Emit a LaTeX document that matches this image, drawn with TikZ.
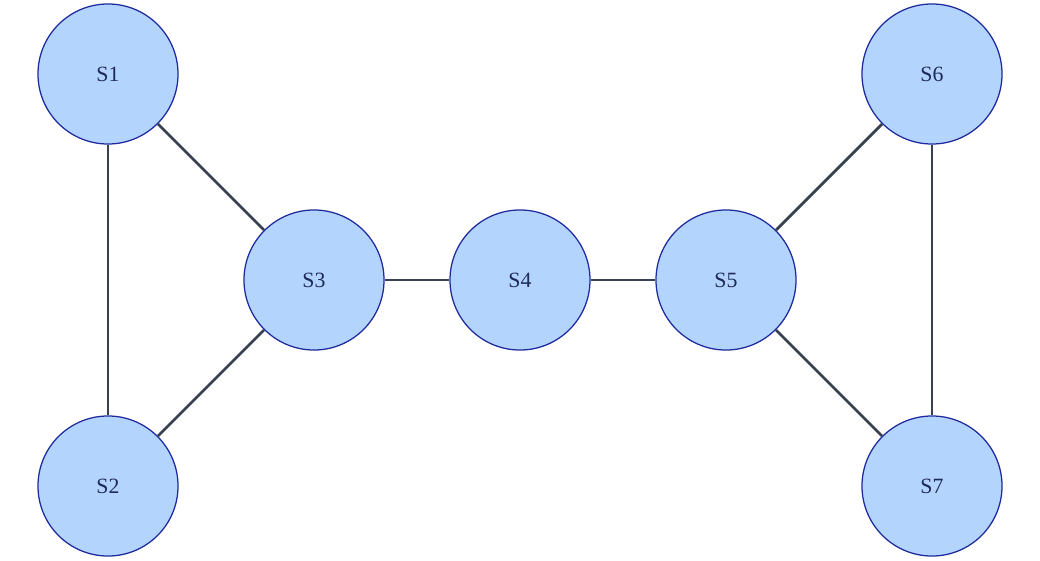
\documentclass[tikz,border=0pt]{standalone}
\usepackage{fontspec}
\setmainfont{Liberation Serif}
\definecolor{nodefill}{HTML}{B3D4FC}
\definecolor{nodeline}{HTML}{1E2A9E}
\definecolor{nodetext}{HTML}{1E2A5A}
\definecolor{edgeline}{HTML}{374151}
\tikzset{
	station/.style={circle, draw=nodeline, line width=0.9pt, fill=nodefill, text=nodetext,
		minimum size=3.5cm, inner sep=0pt, font=\fontsize{15.5}{18}\selectfont},
	link/.style={draw=edgeline, line width=2pt}
}
\begin{document}
\begin{tikzpicture}[x=0.025cm,y=-0.025cm]
	\useasboundingbox (0,0) rectangle (1040,560);
	\node[station] (s1) at (108,74) {S1};
	\node[station] (s2) at (108,486) {S2};
	\node[station] (s3) at (314,280) {S3};
	\node[station] (s4) at (520,280) {S4};
	\node[station] (s5) at (726,280) {S5};
	\node[station] (s6) at (932,74) {S6};
	\node[station] (s7) at (932,486) {S7};
	\draw[link] (s1) -- (s2);
	\draw[link] (s1) -- (s3);
	\draw[link] (s2) -- (s3);
	\draw[link] (s3) -- (s4);
	\draw[link] (s4) -- (s5);
	\draw[link] (s5) -- (s6);
	\draw[link] (s5) -- (s7);
	\draw[link] (s6) -- (s7);
\end{tikzpicture}
\end{document}
